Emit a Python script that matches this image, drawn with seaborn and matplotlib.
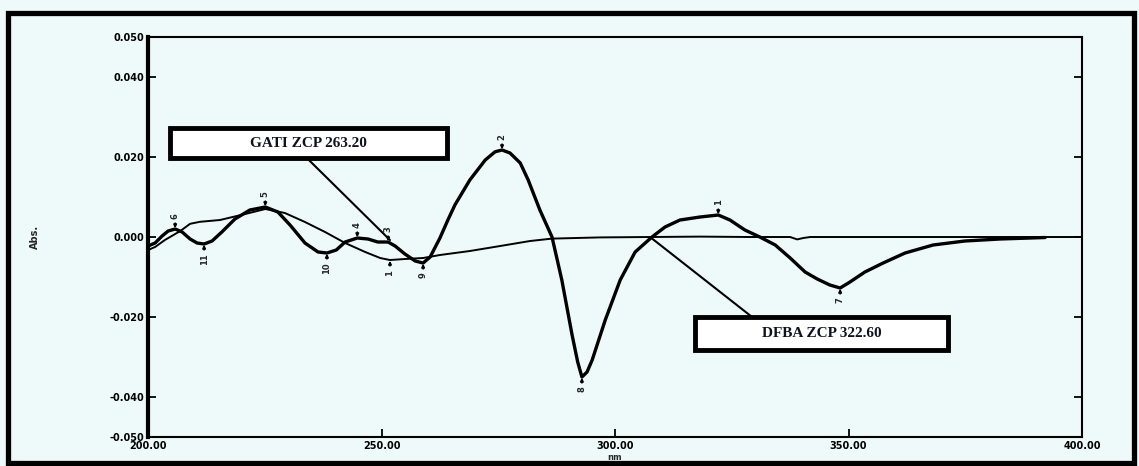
import matplotlib
matplotlib.use("Agg")
import matplotlib.pyplot as plt
from matplotlib.patches import Rectangle
import numpy as np
import pandas as pd
import seaborn as sns

# First-derivative spectra (wavelength in nm, dA/dλ in Abs.)
wl_thick = [200.0, 201.5, 203.0, 204.3, 205.8, 207.3, 209.0, 210.5, 212.0, 213.7,
            215.8, 218.6, 221.8, 225.1, 227.8, 230.4, 233.6, 236.4, 238.3, 240.3,
            242.2, 244.8, 247.1, 249.2, 251.4, 252.9, 255.0, 257.2, 258.9, 260.4,
            262.5, 264.2, 265.7, 268.9, 272.2, 274.3, 275.8, 277.5, 279.7, 281.4,
            283.9, 286.5, 288.6, 290.8, 292.0, 292.9, 294.0, 295.1, 297.9, 301.1,
            304.3, 307.9, 310.7, 313.9, 318.2, 322.1, 324.6, 327.8, 331.0, 334.3,
            337.5, 340.7, 343.3, 346.0, 348.2, 350.3, 353.5, 357.4, 362.1, 368.1,
            374.9, 382.4, 392.1]
abs_thick = [-0.00225, -0.0015, 0.00025, 0.0015, 0.002, 0.00125, -0.0005, -0.0015, -0.00175, -0.001,
             0.00125, 0.0045, 0.00675, 0.0075, 0.00625, 0.003, -0.0015, -0.00375, -0.004, -0.00325,
             -0.00125, -0.00025, -0.0005, -0.00125, -0.00125, -0.00225, -0.00425, -0.006, -0.0065, -0.005,
             -0.00025, 0.00425, 0.008, 0.01425, 0.01925, 0.0213, 0.02175, 0.021, 0.0185, 0.01425,
             0.00675, 0.0, -0.01075, -0.0245, -0.03125, -0.035, -0.03375, -0.03075, -0.02075, -0.01075,
             -0.00375, 0.0, 0.0025, 0.00425, 0.005, 0.0055, 0.00425, 0.00175, 0.0, -0.002,
             -0.00525, -0.00875, -0.0105, -0.012, -0.01275, -0.01125, -0.00875, -0.0065, -0.004, -0.002,
             -0.001, -0.0005, -0.000125]

wl_thin = [200.0, 201.5, 203.6, 206.9, 209.0, 211.1, 215.4, 220.8, 225.1, 229.3,
           233.6, 237.9, 242.2, 246.5, 249.7, 251.8, 255.0, 258.9, 262.5, 268.9,
           275.4, 281.8, 286.5, 296.8, 307.5, 318.2, 328.9, 337.5, 339.0, 340.3,
           341.8, 361.0, 382.4, 400.0]
abs_thin = [-0.00325, -0.0025, -0.00075, 0.0015, 0.0033, 0.0038, 0.00425, 0.00575, 0.007, 0.006,
            0.00375, 0.00125, -0.0015, -0.00375, -0.00525, -0.00575, -0.0055, -0.00525, -0.0045, -0.0035,
            -0.00225, -0.001, -0.0004, -0.0001, 0.0, 0.0001, 0.0, 0.0, -0.0006, -0.00025,
            0.0, 0.0, 0.0, 0.0]

# Peak / valley picks: wavelength, value, number, side
pick_wl = [205.8, 212.0, 225.1, 238.3, 244.8, 251.4, 251.8, 258.9, 275.8, 292.9, 322.1, 348.2]
pick_abs = [0.002, -0.00175, 0.0075, -0.004, -0.00025, -0.00125, -0.00575, -0.0065,
            0.02175, -0.035, 0.0055, -0.01275]
pick_no = ["6", "11", "5", "10", "4", "3", "1", "9", "2", "8", "1", "7"]
pick_up = [True, False, True, False, True, True, False, False, True, False, True, False]

x_ticks = [200, 250, 300, 350, 400]
y_ticks = [-0.05, -0.04, -0.02, 0.0, 0.02, 0.04, 0.05]

bg = "#eefafa"
sns.set_theme(style="white")
plt.rcParams["font.family"] = ["DejaVu Sans"]

fig = plt.figure(figsize=(11.39, 4.66), dpi=100, facecolor=bg)
ax = fig.add_axes([0.130, 0.0622, 0.820, 0.8584], facecolor=bg)

df_thick = pd.DataFrame({"nm": wl_thick, "Abs": abs_thick})
df_thin = pd.DataFrame({"nm": wl_thin, "Abs": abs_thin})
sns.lineplot(data=df_thin, x="nm", y="Abs", ax=ax, color="black", lw=1.4,
             sort=False, estimator=None)
sns.lineplot(data=df_thick, x="nm", y="Abs", ax=ax, color="black", lw=2.4,
             sort=False, estimator=None)

ax.set_xlim(200, 400)
ax.set_ylim(-0.05, 0.05)
ax.set_xticks(x_ticks)
ax.set_xticklabels([f"{v:.2f}" for v in x_ticks], fontsize=7, fontweight="heavy")
ax.set_yticks(y_ticks)
ax.set_yticklabels([f"{v:.3f}" for v in y_ticks], fontsize=7, fontweight="heavy")
ax.tick_params(axis="both", direction="in", length=6, width=1.3, colors="black", pad=3)
ax.tick_params(axis="y", right=True, left=True)
ax.tick_params(axis="x", bottom=True, top=False)
for side, sp in ax.spines.items():
    sp.set_color("black")
    sp.set_linewidth(1.5)
    sp.set_visible(True)
ax.spines["left"].set_linewidth(3.0)

ax.set_xlabel("nm", fontsize=6, fontweight="bold", labelpad=1)
ax.set_ylabel("Abs.", fontsize=7, fontweight="heavy")
ax.yaxis.set_label_coords(-108 / 934, 0.5)

# peak numbers with pointer ticks
for x, y, n, up in zip(pick_wl, pick_abs, pick_no, pick_up):
    off = 7 if up else -7
    ax.annotate(n, xy=(x, y), xytext=(0, off), textcoords="offset points",
                rotation=90, ha="center", va="bottom" if up else "top",
                fontsize=6, fontweight="heavy",
                arrowprops=dict(arrowstyle="-|>", lw=1.3, color="black",
                                mutation_scale=4, shrinkA=0.5, shrinkB=0.5))

# zero-crossing callouts
serif = ["Liberation Serif", "DejaVu Serif"]
ax.annotate("", xy=(251.8, -0.00075), xytext=(0.17, 0.6975),
            textcoords="axes fraction",
            arrowprops=dict(arrowstyle="-", lw=1.5, color="black",
                            shrinkA=0, shrinkB=0))
ax.annotate("", xy=(307.5, 0.0), xytext=(0.6467, 0.30),
            textcoords="axes fraction",
            arrowprops=dict(arrowstyle="-", lw=1.5, color="black",
                            shrinkA=0, shrinkB=0))
for (x0, y0, x1, y1), label in [((0.0236, 0.6975, 0.320, 0.7725), "GATI ZCP 263.20"),
                                ((0.5857, 0.2175, 0.8565, 0.300), "DFBA ZCP 322.60")]:
    ax.add_patch(Rectangle((x0, y0), x1 - x0, y1 - y0, transform=ax.transAxes,
                           facecolor="white", edgecolor="black", lw=3.5, zorder=5))
    ax.text((x0 + x1) / 2, (y0 + y1) / 2, label, transform=ax.transAxes,
            ha="center", va="center", fontsize=11, fontweight="bold",
            family=serif, color="#111122", zorder=6)

# outer frame
fig.patches.append(Rectangle((8 / 1139, 3 / 466), 1126 / 1139, 450 / 466,
                             transform=fig.transFigure, fill=False,
                             edgecolor="black", lw=3.8))

fig.savefig("out.png", dpi=100, facecolor=bg)
